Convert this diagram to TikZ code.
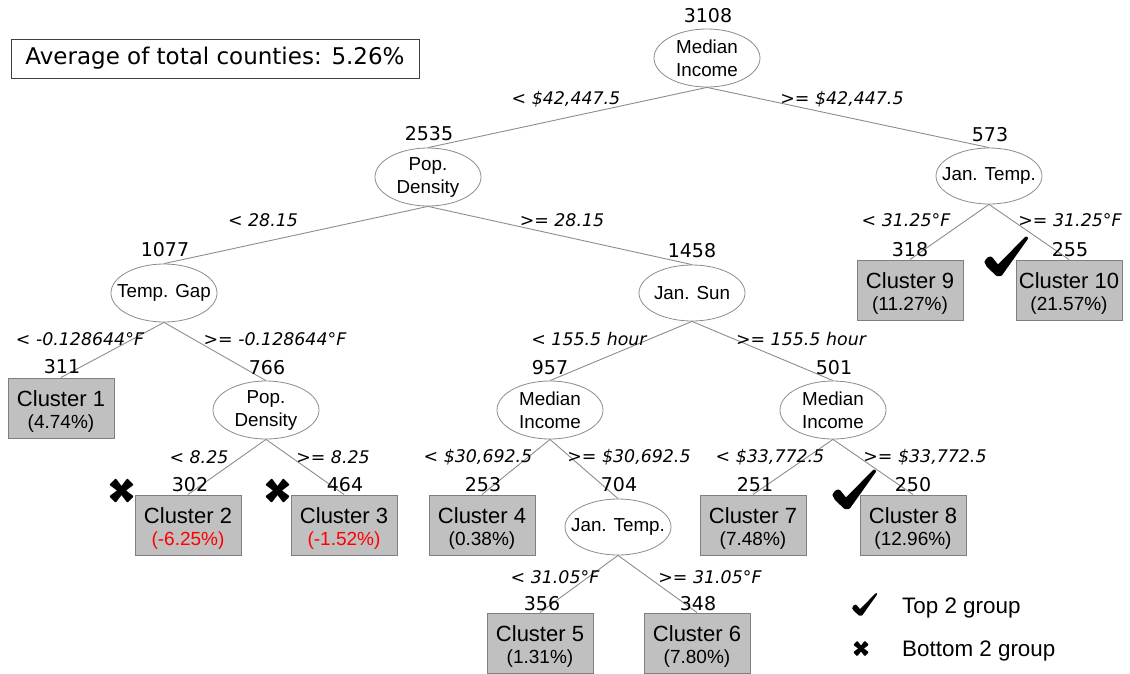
\documentclass[tikz,border=0pt]{standalone}
\usepackage{fontspec}
\setmainfont{Liberation Sans}
\newfontfamily\vfont{DejaVu Sans}
\usetikzlibrary{shapes.geometric}

\definecolor{edgegray}{HTML}{8C8C8C}
\definecolor{boxfill}{HTML}{C0C0C0}
\definecolor{boxline}{HTML}{7F7F7F}
\definecolor{neg}{HTML}{FF0000}

% brush-style tick, drawn in a 44 x 39 box with its top-left corner at the origin
\tikzset{topmark/.pic={
  \fill[black, rounded corners=0.8pt]
    (0.5,25) .. controls (2,21) and (5,19) .. (8,20) -- (14,27.5) -- (41,0)
    .. controls (42.5,-0.8) and (44.2,0.3) .. (44,1.8) -- (17.5,39) -- (12.5,39)
    -- (3.5,30.5) .. controls (1.5,28.5) .. cycle;
}}
% brush-style cross, centred on the origin
\tikzset{botmark/.pic={
  \fill[black, rounded corners=0.8pt]
    (-5.8,-12.2) -- (2,-2) -- (12.2,5.8) -- (5.8,12.2) -- (-2,2) -- (-12.2,-5.8) -- cycle;
  \fill[black, rounded corners=0.8pt]
    (5.8,-12.2) -- (-2,-2) -- (-12.2,5.8) -- (-5.8,12.2) -- (2,2) -- (12.2,-5.8) -- cycle;
}}

\begin{document}
\begin{tikzpicture}[x=1pt,y=-1pt,
  split/.style={ellipse, draw=edgegray, fill=white, line width=0.8pt,
    minimum width=106pt, minimum height=58pt, inner xsep=-12pt, inner ysep=0pt,
    align=center, font=\fontsize{18.8}{23}\selectfont},
  leaf/.style={rectangle, draw=boxline, fill=boxfill, line width=1pt,
    minimum width=106pt, minimum height=60pt, inner sep=0pt, align=center,
    font=\fontsize{22}{25}\selectfont},
  count/.style={font=\vfont\fontsize{19}{22}\selectfont, inner sep=0pt},
  cond/.style={font=\vfont\itshape\fontsize{17.4}{20}\selectfont, inner sep=0pt},
  branch/.style={draw=edgegray, line width=0.9pt},
  legendtext/.style={anchor=base west, inner sep=0pt, font=\fontsize{22.4}{26}\selectfont},
]
\useasboundingbox (0,0) rectangle (1130,673);

% summary box
\node[draw=black!75, line width=1pt, minimum width=408pt, minimum height=39pt,
  inner sep=0pt, font=\vfont\fontsize{23}{26}\selectfont] (avg) at (215,58.5)
  {Average of total counties: 5.26\%};

% split nodes
\node[split] (root) at (707,58) {Median\\Income};
\node[split] (pd1) at (428,177) {Pop.\\Density};
\node[split, minimum height=56pt] (jt1) at (989,176) {Jan. Temp.};
\node[split] (tg) at (164,293) {Temp. Gap};
\node[split, minimum height=56pt] (js) at (692,293) {Jan. Sun};
\node[split] (pd2) at (266,410) {Pop.\\Density};
\node[split] (mi2) at (550,410) {Median\\Income};
\node[split] (mi3) at (833,410) {Median\\Income};
\node[split, minimum height=56pt] (jt2) at (618,527) {Jan. Temp.};

% leaves: cluster name over its percentage
\newcommand\leafbody[2]{\rule{0pt}{23pt}#1\\[-3pt]{\fontsize{19}{22}\selectfont#2}}
\node[leaf] (cl1) at (61,408) {\leafbody{Cluster 1}{(4.74\%)}};
\node[leaf] (cl2) at (188,525) {\leafbody{Cluster 2}{\color{neg}(-6.25\%)}};
\node[leaf] (cl3) at (344,525) {\leafbody{Cluster 3}{\color{neg}(-1.52\%)}};
\node[leaf] (cl4) at (482,525) {\leafbody{Cluster 4}{(0.38\%)}};
\node[leaf] (cl5) at (540,643) {\leafbody{Cluster 5}{(1.31\%)}};
\node[leaf] (cl6) at (697,643) {\leafbody{Cluster 6}{(7.80\%)}};
\node[leaf] (cl7) at (753,525) {\leafbody{Cluster 7}{(7.48\%)}};
\node[leaf] (cl8) at (913,525) {\leafbody{Cluster 8}{(12.96\%)}};
\node[leaf] (cl9) at (910,290) {\leafbody{Cluster 9}{(11.27\%)}};
\node[leaf] (cl10) at (1069,290) {\leafbody{Cluster 10}{(21.57\%)}};

% branches
\draw[branch] (root.south) -- (pd1.north);
\draw[branch] (root.south) -- (jt1.north);
\draw[branch] (pd1.south) -- (tg.north);
\draw[branch] (pd1.south) -- (js.north);
\draw[branch] (jt1.south) -- (cl9.north);
\draw[branch] (jt1.south) -- (cl10.north);
\draw[branch] (tg.south) -- (cl1.north);
\draw[branch] (tg.south) -- (pd2.north);
\draw[branch] (js.south) -- (mi2.north);
\draw[branch] (js.south) -- (mi3.north);
\draw[branch] (pd2.south) -- (cl2.north);
\draw[branch] (pd2.south) -- (cl3.north);
\draw[branch] (mi2.south) -- (cl4.north);
\draw[branch] (mi2.south) -- (jt2.north);
\draw[branch] (mi3.south) -- (cl7.north);
\draw[branch] (mi3.south) -- (cl8.north);
\draw[branch] (jt2.south) -- (cl5.north);
\draw[branch] (jt2.south) -- (cl6.north);

% sample counts
\node[count] (n3108) at (708,16) {3108};
\node[count] (n2535) at (429,134) {2535};
\node[count] (n573) at (990,135) {573};
\node[count] (n1077) at (165,250) {1077};
\node[count] (n1458) at (692,251) {1458};
\node[count] (n318) at (910,250) {318};
\node[count] (n255) at (1070,250) {255};
\node[count] (n311) at (62,367) {311};
\node[count] (n766) at (267,368) {766};
\node[count] (n957) at (550,368) {957};
\node[count] (n501) at (834,368) {501};
\node[count] (n302) at (190,485) {302};
\node[count] (n464) at (345,485) {464};
\node[count] (n253) at (483,485) {253};
\node[count] (n704) at (619,485) {704};
\node[count] (n251) at (755,485) {251};
\node[count] (n250) at (913,485) {250};
\node[count] (n356) at (542,604) {356};
\node[count] (n348) at (698,604) {348};

% split conditions
\node[cond] (e1) at (566,99) {< \$42,447.5};
\node[cond] (e2) at (842,99) {>= \$42,447.5};
\node[cond] (e3) at (263,220) {< 28.15};
\node[cond] (e4) at (562,220) {>= 28.15};
\node[cond] (e5) at (906,220) {< 31.25°F};
\node[cond] (e6) at (1070,220) {>= 31.25°F};
\node[cond] (e7) at (80,339) {< -0.128644°F};
\node[cond] (e8) at (275,339) {>= -0.128644°F};
\node[cond] (e9) at (589,339) {< 155.5 hour};
\node[cond] (e10) at (801,339) {>= 155.5 hour};
\node[cond] (e11) at (199,457) {< 8.25};
\node[cond] (e12) at (333,457) {>= 8.25};
\node[cond] (e13) at (478,457) {< \$30,692.5};
\node[cond] (e14) at (629,457) {>= \$30,692.5};
\node[cond] (e15) at (770,457) {< \$33,772.5};
\node[cond] (e16) at (925,457) {>= \$33,772.5};
\node[cond] (e17) at (555,577) {< 31.05°F};
\node[cond] (e18) at (710,577) {>= 31.05°F};

% top / bottom markers
\pic at (984,237) {topmark};
\pic at (832,470) {topmark};
\pic at (121.5,490.5) {botmark};
\pic at (277.5,490.5) {botmark};

% legend
\pic[scale=0.57] at (852,593.5) {topmark};
\pic[scale=0.64] at (861,648.5) {botmark};
\node[legendtext] (ltt) at (902,613) {Top 2 group};
\node[legendtext] (lbt) at (902,656) {Bottom 2 group};
\end{tikzpicture}
\end{document}
